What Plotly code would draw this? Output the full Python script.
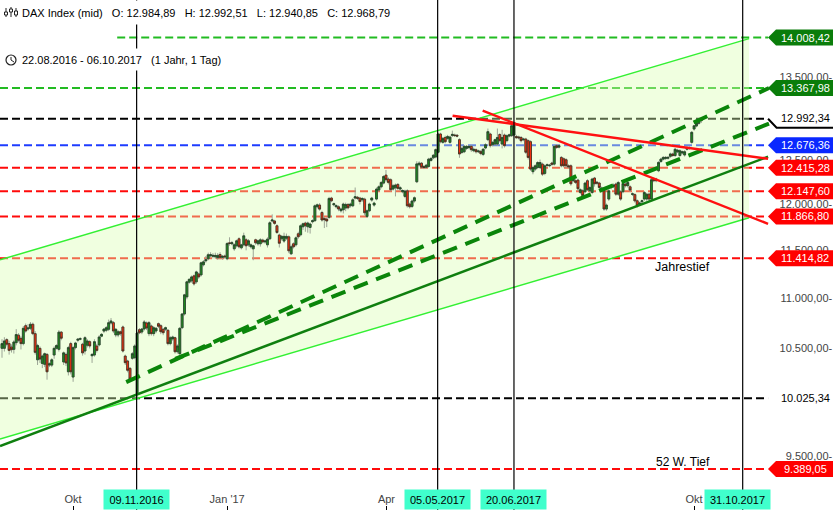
import math
import plotly.graph_objects as go

W, H = 833, 510

opens = [
10501,10501,10586,10547,10514,10491,10556,10630,10599,10547,
10724,10691,10698,10738,10645,10390,10501,10355,10346,10442,
10339,10339,10436,10501,10491,10660,10369,10442,10275,10547,
10225,10508,10580,10590,10541,10475,10531,10566,10429,10436,
10524,10534,10620,10670,10678,10688,10751,10754,10632,10632,
10664,10711,10426,10378,10308,10404,10410,10066,10684,10661,
10691,10751,10645,10721,10645,10671,10744,10724,10688,10688,
10678,10547,10593,10605,10468,10449,10704,10841,11014,11165,
11179,11231,11169,11251,11241,11347,11389,11410,11442,11436,
11431,11421,11456,11425,11440,11410,11581,11570,11516,11549,
11624,11527,11559,11613,11559,11538,11516,11613,11570,11570,
11610,11590,11559,11624,11817,11817,11765,11664,11624,11599,
11629,11645,11463,11570,11559,11678,11667,11754,11795,11754,
11747,11809,11820,11974,11993,11911,11845,11838,11857,12071,
11996,11974,11974,11930,11941,11960,12000,11985,11985,12071,
12080,12071,12052,12059,11867,11930,12049,11993,12060,12161,
12198,12240,12331,12286,12278,12172,12187,12225,12172,12142,
12090,12153,12004,11978,12038,12255,12449,12468,12430,12420,
12430,12500,12530,12540,12595,12810,12711,12769,12758,12711,
12791,12798,12795,12743,12593,12601,12640,12649,12664,12613,
12625,12600,12605,12570,12645,12743,12810,12684,12691,12691,
12804,12691,12798,12731,12785,12790,12798,12781,12775,12769,
12743,12750,12731,12719,12370,12400,12418,12418,12457,12350,
12442,12438,12470,12457,12672,12655,12535,12519,12508,12438,
12438,12267,12267,12274,12134,12153,12142,12267,12153,12134,
12297,12250,12240,12165,12153,11949,12060,12191,12202,12229,
12115,12142,12142,12229,12210,12198,12112,12110,12041,12004,
12030,12060,12060,12115,12060,12292,12267,12381,12488,12515,
12523,12525,12547,12575,12557,12600,12557,12586,12563,12630,
12640,12711,12869,12905,12937,12984.89]

closes = [
10547,10573,10541,10481,10488,10563,10636,10579,10547,10698,
10671,10701,10738,10645,10462,10529,10397,10426,10449,10275,
10352,10390,10501,10529,10660,10600,10457,10360,10508,10275,
10508,10553,10590,10595,10457,10605,10573,10524,10442,10566,
10481,10612,10638,10690,10704,10754,10771,10671,10688,10664,
10645,10475,10362,10289,10206,10449,10524,10651,10654,10691,
10761,10701,10754,10645,10704,10698,10718,10664,10654,10704,
10547,10605,10612,10468,10524,10698,10841,11035,11169,11195,
11220,11148,11272,11220,11368,11378,11400,11453,11453,11446,
11446,11446,11425,11436,11431,11573,11573,11581,11560,11602,
11538,11559,11656,11549,11602,11559,11549,11581,11602,11613,
11590,11600,11620,11798,11828,11791,11692,11576,11650,11650,
11650,11495,11538,11538,11634,11645,11765,11787,11765,11795,
11784,11820,11985,11996,11948,11828,11831,11817,12067,12041,
12007,11985,11949,11949,12004,12000,11963,12004,12052,12086,
12068,12033,12067,11908,11930,12004,12071,12015,12172,12198,
12247,12315,12278,12248,12165,12210,12218,12180,12187,12156,
12150,11985,11974,12038,12075,12460,12468,12422,12418,12445,
12515,12523,12560,12626,12810,12719,12758,12719,12781,12774,
12806,12791,12785,12575,12640,12664,12664,12664,12625,12630,
12601,12610,12580,12630,12684,12838,12672,12711,12743,12769,
12731,12769,12672,12790,12800,12908,12948,12766,12765,12731,
12750,12595,12535,12400,12418,12438,12476,12476,12342,12438,
12449,12445,12455,12664,12652,12672,12438,12438,12438,12427,
12232,12286,12248,12176,12165,12098,12240,12165,12190,12286,
12232,12240,12190,12184,11949,11993,12153,12210,12218,12115,
12247,12060,12236,12210,12247,12161,12119,12040,11985,12015,
12041,12134,12115,12060,12278,12267,12286,12477,12515,12535,
12535,12535,12575,12557,12630,12619,12613,12601,12601,12649,
12650,12830,12908,12940,12980,12968.79]

highs = [
10590,10610,10600,10575,10540,10580,10690,10650,10620,10720,
10745,10740,10760,10755,10670,10545,10520,10440,10460,10455,
10365,10405,10520,10540,10680,10670,10470,10460,10525,10565,
10525,10565,10600,10610,10555,10620,10590,10580,10455,10590,
10545,10630,10650,10700,10720,10785,10800,10770,10700,10680,
10675,10725,10440,10390,10320,10465,10540,10665,10700,10700,
10780,10765,10770,10735,10720,10710,10755,10740,10700,10715,
10690,10620,10625,10615,10540,10710,10850,11045,11180,11205,
11235,11245,11285,11265,11380,11395,11440,11475,11480,11470,
11475,11470,11480,11450,11455,11590,11640,11600,11575,11615,
11640,11570,11690,11630,11620,11575,11560,11625,11615,11630,
11625,11615,11640,11815,11890,11830,11780,11680,11665,11690,
11680,11660,11560,11585,11650,11700,11780,11800,11810,11810,
11800,11835,12000,12010,12015,11930,11860,11855,12085,12085,
12020,12000,11990,11965,12020,12020,12015,12020,12070,12190,
12095,12085,12080,12075,11945,12020,12085,12030,12190,12215,
12265,12330,12390,12305,12295,12230,12235,12240,12205,12170,
12165,12170,12020,12055,12090,12490,12490,12480,12445,12460,
12530,12540,12575,12640,12825,12825,12775,12790,12800,12790,
12850,12815,12810,12760,12660,12680,12680,12680,12680,12650,
12640,12625,12620,12645,12700,12875,12825,12725,12755,12875,
12820,12860,12815,12805,12815,12925,12951.58,12800,12790,12785,
12765,12765,12745,12735,12440,12455,12490,12510,12475,12455,
12465,12460,12485,12680,12690,12690,12550,12535,12525,12455,
12455,12300,12285,12290,12180,12170,12255,12285,12205,12300,
12310,12265,12255,12200,12170,12010,12170,12225,12235,12245,
12265,12160,12250,12245,12260,12215,12135,12125,12055,12030,
12055,12150,12130,12130,12295,12305,12300,12490,12530,12550,
12550,12550,12590,12590,12645,12635,12630,12615,12620,12665,
12665,12845,12920,12955,12995,12992.51]

lows = [
10410,10470,10520,10440,10460,10450,10530,10560,10490,10530,
10655,10675,10680,10630,10440,10340,10360,10310,10320,10200,
10320,10320,10400,10490,10470,10580,10340,10330,10240,10250,
10180,10490,10560,10580,10430,10440,10510,10500,10360,10420,
10460,10520,10610,10650,10660,10670,10735,10650,10610,10610,
10625,10460,10340,10270,10190,10390,10395,10030,10640,10640,
10675,10680,10620,10625,10620,10650,10700,10640,10630,10670,
10530,10530,10575,10450,10450,10430,10690,10825,10990,11150,
11160,11130,11150,11200,11225,11330,11370,11395,11425,11415,
11410,11400,11405,11400,11410,11395,11550,11555,11495,11530,
11520,11510,11540,11500,11540,11520,11395,11560,11550,11540,
11575,11570,11530,11610,11800,11775,11675,11530,11605,11580,
11610,11470,11450,11520,11540,11625,11650,11720,11700,11690,
11680,11790,11810,11955,11930,11810,11740,11750,11840,12025,
11980,11955,11925,11910,11900,11925,11945,11965,11970,12055,
12050,12000,12030,11880,11850,11915,12030,11975,12045,12145,
12180,12225,12255,12225,12145,12155,12090,12160,12150,12125,
12070,11965,11955,11960,12020,12240,12430,12405,12400,12405,
12415,12485,12515,12525,12580,12700,12695,12700,12740,12695,
12775,12775,12770,12530,12575,12585,12620,12630,12600,12595,
12580,12585,12560,12550,12630,12725,12650,12665,12675,12670,
12710,12640,12650,12710,12770,12775,12780,12750,12745,12710,
12725,12575,12510,12380,12340,12380,12400,12400,12320,12330,
12425,12420,12435,12440,12635,12640,12420,12420,12415,12410,
12210,12250,12230,12150,12115,12075,12125,12150,12135,12115,
12200,12220,12165,12150,11930,11930,12040,12170,12185,12095,
12095,12040,12125,12190,12190,12140,12095,12020,11965,11990,
12010,12040,12040,12040,12040,12250,12250,12365,12470,12500,
12505,12510,12530,12540,12540,12585,12540,12570,12545,12615,
12625,12695,12850,12890,12920,12940.85]

sessions = list(range(len(opens)))

# axis limits (session numbers and index points)
x_lo, x_hi = -0.845, 350.6
y_lo, y_hi = 9039, 14505
x_tag = 323.2          # where the price tags begin
x_tag_tip = x_hi

tick_sessions = [30, 95, 162.2, 292]
tick_labels = ["Okt", "Jan '17", "Apr", "Okt"]
y_ticks = [14500, 13500, 12500, 12000, 11500, 11000, 10500, 9500]
y_ticktext = ["14.500,00-", "13.500,00-", "12.500,00-", "12.000,00-", "11.500,00-", "11.000,00-", "10.500,00-", "9.500,00-"]

event_sessions = [56.8, 183.8, 216.0, 312.5]
event_labels = ["09.11.2016", "05.05.2017", "20.06.2017", "31.10.2017"]
event_shift = [0, 0, 0, -5]

tag_values = [14008.42, 13367.98, 12676.36, 12415.28, 12147.60, 11866.80, 11414.82, 9389.05]
tag_text = ["14.008,42", "13.367,98", "12.676,36", "12.415,28", "12.147,60", "11.866,80", "11.414,82", "9.389,05"]
tag_colors = ["#0A7D0A", "#0A7D0A", "#0A28FF", "#FF0000", "#FF0000", "#FF0000", "#FF0000", "#FF0000"]
tag_line_colors = ["#22BB22", "#22BB22", "#1E3CFF", "#FF0A0A", "#FF0A0A", "#FF0A0A", "#FF0A0A", "#FF0A0A"]
tag_start = [48.6, x_lo, x_lo, x_lo, x_lo, x_lo, x_lo, x_lo]
black_levels = [12992.34, 10025.34]
black_text = ["12.992,34", "10.025,34"]
connector_x = [x_tag, 326.8, x_hi]
connector_y = [12992.34, 12885, 12885]

channel_x = [x_lo, 315.2]
channel_upper = [11399, 13995]
channel_lower = [9653, 11852]
support_x = [x_lo, 323.2]
support_y = [9591, 12543]
dash_a_x = [52.4, 323.6]
dash_a_y = [10177, 13368]
dash_b_x = [73.1, 323.6]
dash_b_y = [10398, 12933]
red_a_x = [190.1, 323.2]
red_a_y = [13030, 12520]
red_b_x = [202.8, 323.2]
red_b_y = [13090, 11786]

FONT = "Liberation Sans"
SP = "\u00a0\u00a0\u00a0"

def px(v):
    return v / W

def py(v):
    return 1 - v / H

shapes = []
for v, c, s in zip(tag_values, tag_line_colors, tag_start):
    shapes.append(dict(type="line", layer="below", xref="x", yref="y", x0=s, x1=x_tag, y0=v, y1=v,
                       line=dict(color=c, width=2, dash="8px,4px")))
for v in black_levels:
    shapes.append(dict(type="line", layer="below", xref="x", yref="y", x0=x_lo, x1=x_tag, y0=v, y1=v,
                       line=dict(color="#000000", width=2, dash="8px,4px")))
poly = (f"M {channel_x[0]} {channel_upper[0]} L {channel_x[1]} {channel_upper[1]} "
        f"L {channel_x[1]} {channel_lower[1]} L {channel_x[0]} {channel_lower[0]} Z")
shapes.append(dict(type="path", layer="below", xref="x", yref="y", path=poly,
                   fillcolor="rgba(217,255,177,0.4)", line=dict(width=0)))

# price tags
for v, c in zip(tag_values, tag_colors):
    shapes.append(dict(type="path", layer="above", xref="x", yref="y", xsizemode="pixel", ysizemode="pixel",
                       xanchor=x_tag_tip, yanchor=v, path="M -65 0 L -57 8 L 0 8 L 0 -8 L -57 -8 Z",
                       fillcolor=c, line=dict(width=0)))

# icons of the header rows
for cx, top, bot, bt, bb in [(6, 8, 17, 12, 15), (11, 7, 17, 9, 12), (16, 8, 17, 11, 15)]:
    shapes.append(dict(type="line", xref="paper", yref="paper", x0=px(cx), x1=px(cx), y0=py(top), y1=py(bot),
                       line=dict(color="#222222", width=1)))
    shapes.append(dict(type="rect", xref="paper", yref="paper", x0=px(cx - 1.5), x1=px(cx + 1.5), y0=py(bt), y1=py(bb),
                       fillcolor="#FFFFFF", line=dict(color="#222222", width=1)))
shapes.append(dict(type="circle", xref="paper", yref="paper", x0=px(6), x1=px(16), y0=py(55), y1=py(65),
                   line=dict(color="#222222", width=1.2)))
shapes.append(dict(type="path", xref="paper", yref="paper",
                   path=f"M {px(11)} {py(57)} L {px(11)} {py(60)} L {px(14)} {py(62)}",
                   line=dict(color="#222222", width=1)))

fig = go.Figure()

# wicks
fig.add_trace(go.Candlestick(x=sessions, open=opens, high=highs, low=lows, close=closes,
    whiskerwidth=0,
    increasing=dict(line=dict(color="#9CA596", width=1), fillcolor="rgba(0,0,0,0)"),
    decreasing=dict(line=dict(color="#9CA596", width=1), fillcolor="rgba(0,0,0,0)")))
# bodies
body_hi = [max(a, b) for a, b in zip(opens, closes)]
body_lo = [min(a, b) for a, b in zip(opens, closes)]
fig.add_trace(go.Candlestick(x=sessions, open=opens, high=body_hi, low=body_lo, close=closes,
    whiskerwidth=0,
    increasing=dict(line=dict(color="#26402A", width=0.8), fillcolor="#1E8F1E"),
    decreasing=dict(line=dict(color="#3A3020", width=0.8), fillcolor="#FF3010")))

def line(x, y, color, width, dash=None):
    fig.add_trace(go.Scatter(x=x, y=y, mode="lines", line=dict(color=color, width=width, dash=dash)))

line(channel_x, channel_upper, "#33F033", 1.5)
line(channel_x, channel_lower, "#33F033", 1.5)
line(support_x, support_y, "#0F7F0F", 2.5)
line(dash_a_x, dash_a_y, "#0A850A", 4, "15px,9px")
line(dash_b_x, dash_b_y, "#0A850A", 4, "15px,9px")
line(red_a_x, red_a_y, "#FF1010", 2.5)
line(red_b_x, red_b_y, "#FF1010", 2.5)
line(connector_x, connector_y, "#000000", 2)
for e in event_sessions:
    line([e, e], [y_lo, y_hi], "#000000", 1.2)

ann = []
for v, t in zip(tag_values, tag_text):
    ann.append(dict(x=338.8, y=math.log10(v), xref="x", yref="y", text=t, showarrow=False,
                    font=dict(family=FONT, size=11, color="#FFFFFF")))
ann.append(dict(x=338.8, y=math.log10(12992.34) + 0.0002, xref="x", yref="y", text=black_text[0], showarrow=False,
                font=dict(family=FONT, size=11, color="#000000")))
ann.append(dict(x=338.8, y=math.log10(10025.34), xref="x", yref="y", text=black_text[1], showarrow=False,
                font=dict(family=FONT, size=11, color="#000000")))
ann.append(dict(x=287.3, y=math.log10(11326), xref="x", yref="y", text="Jahrestief", showarrow=False,
                font=dict(family=FONT, size=12.5, color="#000000")))
ann.append(dict(x=287.3, y=math.log10(9450), xref="x", yref="y", text="52 W. Tief", showarrow=False,
                font=dict(family=FONT, size=12, color="#000000")))
for e, t, s in zip(event_sessions, event_labels, event_shift):
    ann.append(dict(x=e, y=0, xref="x", yref="paper", yanchor="bottom", text=t, showarrow=False, xshift=s,
                    width=65, height=19, bgcolor="#40FFCC", borderpad=0,
                    font=dict(family=FONT, size=11, color="#000000")))
ann.append(dict(x=px(21), y=1, xref="paper", yref="paper", xanchor="left", yanchor="top", align="left",
                text=f"DAX Index (mid){SP}O: 12.984,89{SP}H: 12.992,51{SP}L: 12.940,85{SP}C: 12.968,79",
                showarrow=False, width=374, height=23, bgcolor="#FFFFFF", borderpad=0,
                font=dict(family=FONT, size=11, color="#000000")))
ann.append(dict(x=px(21), y=py(48), xref="paper", yref="paper", xanchor="left", yanchor="top", align="left",
                text=f"22.08.2016 - 06.10.2017{SP}(1 Jahr, 1 Tag)",
                showarrow=False, width=205, height=21, bgcolor="#FFFFFF", borderpad=0,
                font=dict(family=FONT, size=11, color="#000000")))

fig.update_layout(
    width=W, height=H, margin=dict(l=0, r=0, t=0, b=0), showlegend=False,
    paper_bgcolor="#FFFFFF", plot_bgcolor="#FFFFFF", shapes=shapes, annotations=ann,
    boxmode="overlay", boxgap=0.2, boxgroupgap=0,
    font=dict(family=FONT, size=11, color="#000000"),
    xaxis=dict(range=[x_lo, x_hi], rangeslider=dict(visible=False), showgrid=False, zeroline=False,
               tickmode="array", tickvals=tick_sessions, ticktext=tick_labels,
               ticks="inside", ticklen=4, tickcolor="#000000", ticklabelposition="inside",
               showline=True, linecolor="#000000", linewidth=2),
    yaxis=dict(type="log", side="right", range=[math.log10(y_lo), math.log10(y_hi)], showgrid=False, zeroline=False,
               tickmode="array", tickvals=y_ticks, ticktext=y_ticktext, ticks="",
               ticklabelposition="inside", showline=True, linecolor="#000000", linewidth=2),
)

fig.write_html("out.html", config=dict(displayModeBar=False), post_script="document.body.style.margin='0';")
